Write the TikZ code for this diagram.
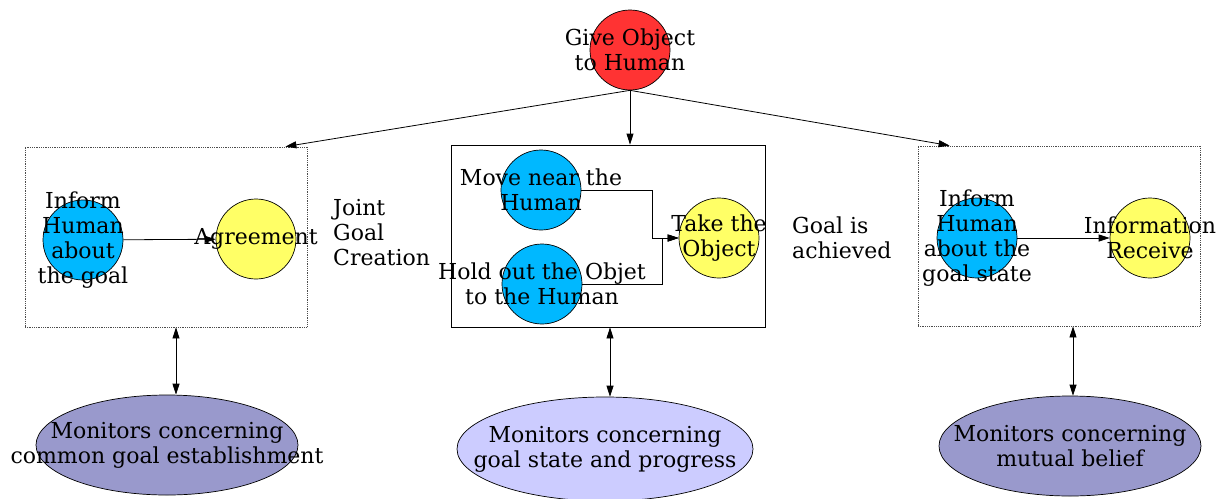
\documentclass[tikz,border=0pt]{standalone}
\usepackage{fontspec}
\setmainfont{DejaVu Serif}
\usetikzlibrary{arrows.meta,shapes.geometric}
\definecolor{redfill}{HTML}{FF3333}
\definecolor{bluefill}{HTML}{00B8FF}
\definecolor{yellowfill}{HTML}{FFFF66}
\definecolor{mondark}{HTML}{9999CC}
\definecolor{monlight}{HTML}{CCCCFF}
\begin{document}
\begin{tikzpicture}[x=1pt,y=-1pt,
  every node/.style={font=\fontsize{22}{25}\selectfont},
  disc/.style={circle, draw, line width=0.7pt, minimum size=80pt, inner sep=0pt},
  goalnode/.style={disc, fill=redfill},
  actnode/.style={disc, fill=bluefill},
  resnode/.style={disc, fill=yellowfill},
  monitor/.style={ellipse, draw, line width=0.7pt, inner sep=0pt},
  groupsolid/.style={draw, line width=0.8pt, inner sep=0pt},
  groupdotted/.style={draw=black!70, densely dotted, line width=0.8pt, inner sep=0pt},
  note/.style={align=left, inner sep=0pt, anchor=north west},
  arr/.style={-{Triangle[length=11pt,width=7pt]}, line width=0.8pt},
  dbl/.style={{Triangle[length=11pt,width=7pt]}-{Triangle[length=11pt,width=7pt]}, line width=0.8pt},
  ctext/.style={label={[align=center]center:#1}}
]
\useasboundingbox (0,0) rectangle (1223,498);

% top goal
\node[goalnode, ctext={Give Object\\to Human}] (give) at (630,50) {};

% three sub-task groups
\node[groupdotted, minimum width=282pt, minimum height=180pt] (lbox) at (166,237) {};
\node[groupsolid, minimum width=314pt, minimum height=182pt] (cbox) at (608,236) {};
\node[groupdotted, minimum width=282pt, minimum height=180pt] (rbox) at (1059,236) {};

% left group
\node[actnode, ctext={Inform\\Human\\about\\the goal}] (inform1) at (83,240) {};
\node[resnode, ctext={Agreement}] (agree) at (256,239) {};
\draw[arr] (inform1) -- (agree);

% centre group
\node[actnode, ctext={Move near the\\Human}] (move) at (541,190) {};
\node[actnode, ctext={Hold out the Objet\\to the Human}] (hold) at (542,284) {};
\node[resnode, ctext={Take the\\Object}] (take) at (719,238) {};
\draw[arr] (move.east) -| ([xshift=-26pt]take.west) -- (take.west);
\draw[arr] (hold.east) -| ([xshift=-16pt]take.west) -- (take.west);

% right group
\node[actnode, ctext={Inform\\Human\\about the\\goal state}] (inform2) at (977,238) {};
\node[resnode, ctext={Information\\Receive}] (receive) at (1150,238) {};
\draw[arr] (inform2) -- (receive);

% side notes
\node[note] (joint) at (333,199) {Joint\\Goal\\Creation};
\node[note] (achieved) at (792,217) {Goal is\\achieved};

% decomposition of the goal
\draw[arr] (give.south) -- ([xshift=-22pt]lbox.north east);
\draw[arr] (give.south) -- (give.south |- cbox.north);
\draw[arr] (give.south) -- ([xshift=32pt]rbox.north west);

% monitors
\node[monitor, fill=mondark, minimum width=262pt, minimum height=100pt,
      ctext={Monitors concerning\\common goal establishment}] (mon1) at (167,445) {};
\node[monitor, fill=monlight, minimum width=296pt, minimum height=104pt,
      ctext={Monitors concerning\\goal state and progress}] (mon2) at (605,449) {};
\node[monitor, fill=mondark, minimum width=262pt, minimum height=100pt,
      ctext={Monitors concerning\\mutual belief}] (mon3) at (1070,446) {};

\draw[dbl] ([xshift=10pt]lbox.south) -- ([xshift=10pt]lbox.south |- mon1.north);
\draw[dbl] ([xshift=2pt]cbox.south) -- ([xshift=2pt]cbox.south |- mon2.north);
\draw[dbl] ([xshift=14pt]rbox.south) -- ([xshift=14pt]rbox.south |- mon3.north);
\end{tikzpicture}
\end{document}
